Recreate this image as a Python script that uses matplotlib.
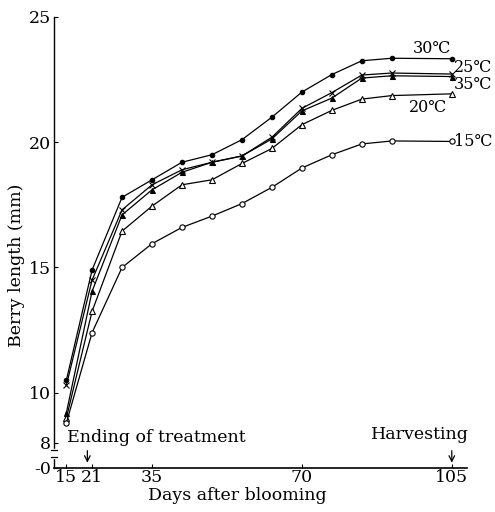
# Berry length vs days after blooming for five temperature treatments
import matplotlib
matplotlib.use('Agg')
import matplotlib.pyplot as plt

# ===== DATA =====
days = [15, 21, 28, 35, 42, 49, 56, 63, 70, 77, 84, 91, 105]

len_30 = [10.5, 14.9, 17.8, 18.5, 19.2, 19.5, 20.1, 21.0, 22.0, 22.7, 23.25, 23.35, 23.33]
len_25 = [10.3, 14.5, 17.3, 18.3, 18.9, 19.2, 19.45, 20.2, 21.35, 21.98, 22.68, 22.76, 22.72]
len_35 = [9.2, 14.05, 17.1, 18.1, 18.8, 19.2, 19.45, 20.13, 21.25, 21.76, 22.56, 22.65, 22.62]
len_20 = [9.0, 13.25, 16.45, 17.45, 18.3, 18.5, 19.15, 19.75, 20.7, 21.27, 21.72, 21.86, 21.93]
len_15 = [8.8, 12.4, 15.0, 15.95, 16.6, 17.05, 17.55, 18.2, 18.97, 19.5, 19.93, 20.05, 20.03]

series_labels = ["30℃", "25℃", "35℃", "20℃", "15℃"]

x_ticks = [15, 21, 35, 70, 105]
y_ticks = [7, 8, 10, 15, 20, 25]
y_tick_labels = ["-0", "8", "10", "15", "20", "25"]
# ================

plt.rcParams['font.family'] = ['DejaVu Serif', 'DejaVu Sans']
fs = 12.5
fs_lab = 11.5  # temperature labels, kept narrower so they fit on the right

fig = plt.figure(figsize=(4.95, 5.12), dpi=100)
ax = fig.add_axes([0.109, 0.086, 0.834, 0.881])

# each series: (values, marker, facecolor, size)
styles = [
    (len_30, 'o', 'black', 3.2),
    (len_25, 'x', 'black', 4.0),
    (len_35, '^', 'black', 3.6),
    (len_20, '^', 'white', 4.0),
    (len_15, 'o', 'white', 3.8),
]
for vals, mk, fc, ms in styles:
    ax.plot(days, vals, color='black', lw=0.9, marker=mk, ms=ms,
            markerfacecolor=fc, markeredgecolor='black', markeredgewidth=0.8)

# series labels at the right end
ax.text(100.3, 23.72, series_labels[0], fontsize=fs_lab, ha='center', va='center')
ax.text(105.5, 22.97, series_labels[1], fontsize=fs_lab, ha='left', va='center')
ax.text(105.5, 22.3, series_labels[2], fontsize=fs_lab, ha='left', va='center')
ax.text(99.4, 21.4, series_labels[3], fontsize=fs_lab, ha='center', va='center')
ax.text(105.5, 20.03, series_labels[4], fontsize=fs_lab, ha='left', va='center')

# axis ranges and ticks
ax.set_xlim(12.1, 108.5)
ax.set_ylim(7, 25)
ax.set_xticks(x_ticks)
ax.set_xticklabels([str(t) for t in x_ticks], fontsize=fs)
ax.set_yticks(y_ticks)
ax.set_yticklabels(y_tick_labels, fontsize=fs)
ax.tick_params(direction='in', length=3, width=0.8, pad=2)
ax.tick_params(axis='x', pad=1)

ax.spines['top'].set_visible(False)
ax.spines['right'].set_visible(False)
ax.spines['left'].set_linewidth(1.0)
ax.spines['bottom'].set_linewidth(1.2)

# axis break between 0 and 8
ax.plot([12.1, 12.1], [7.45, 7.7], color='white', lw=2.5, clip_on=False, zorder=5)
for yb in [7.45, 7.7]:
    ax.plot([11.5, 12.8], [yb, yb], color='black', lw=0.9, clip_on=False, zorder=6)

ax.set_xlabel("Days after blooming", fontsize=fs)
ax.xaxis.set_label_coords(0.443, -0.042)
ax.set_ylabel("Berry length (mm)", fontsize=fs)
ax.yaxis.set_label_coords(-0.07, 0.45)

# treatment annotations
ax.text(15.2, 8.22, "Ending of treatment", fontsize=fs, ha='left', va='center')
ax.annotate("", xy=(19.9, 7.1), xytext=(19.9, 7.8),
            arrowprops=dict(arrowstyle='->', color='black', lw=0.9))
ax.text(97.5, 8.35, "Harvesting", fontsize=fs, ha='center', va='center')
ax.annotate("", xy=(105, 7.1), xytext=(105, 7.8),
            arrowprops=dict(arrowstyle='->', color='black', lw=0.9))

fig.savefig("out.png", dpi=100)
